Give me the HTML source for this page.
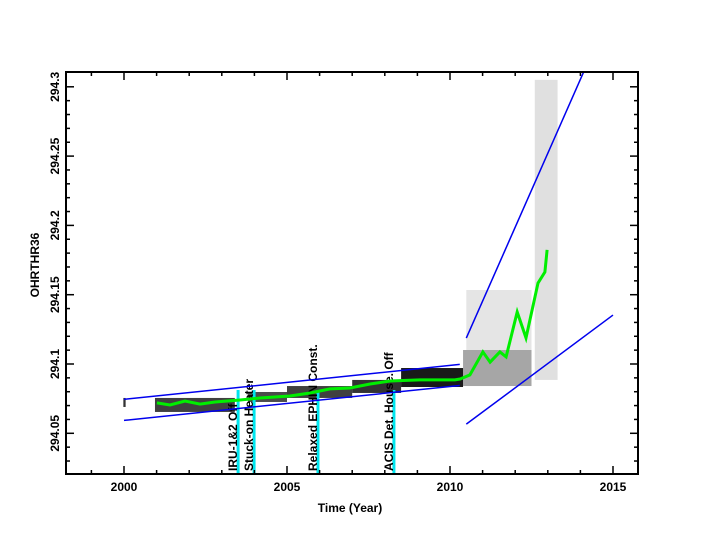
<!DOCTYPE html>
<html><head><meta charset="utf-8"><style>
html,body{margin:0;padding:0;background:#fff;}
svg{display:block;font-family:"Liberation Sans",sans-serif;}
text{font-weight:bold;}
</style></head><body>
<svg id="chart" width="704" height="544" viewBox="0 0 704 544">
<rect x="0" y="0" width="704" height="544" fill="#fff"/>
<g id="bands"></g>
<g id="events"></g>
<g id="limits"></g>
<path id="smooth" fill="none" stroke="#00ee00" stroke-width="3"/>
<rect x="66" y="72" width="572" height="402" fill="none" stroke="#000" stroke-width="2"/>
<g id="axes"></g>
<text x="350" y="512" font-size="12" text-anchor="middle">Time (Year)</text>
<text x="0" y="0" font-size="12" text-anchor="middle" transform="translate(39,265) rotate(-90)">OHRTHR36</text>
</svg>
<script>
const xTicks = [2000, 2005, 2010, 2015];
const yTicks = [294.05, 294.1, 294.15, 294.2, 294.25, 294.3];
const yTickLabels = ["294.05", "294.1", "294.15", "294.2", "294.25", "294.3"];
const smoothYears = [2001.01,2001.41,2001.87,2002.33,2002.79,2003.56,2004.17,2005.09,2005.71,2006.32,2006.93,2007.55,2008.16,2009.08,2010.15,2010.31,2010.61,2011.01,2011.23,2011.53,2011.72,2012.06,2012.33,2012.70,2012.91,2012.98];
const smoothValues = [294.0719,294.0704,294.0733,294.0711,294.0726,294.0740,294.0755,294.0769,294.0791,294.0820,294.0827,294.0856,294.0877,294.0885,294.0885,294.0892,294.0921,294.1087,294.1014,294.1087,294.1051,294.1375,294.1188,294.1584,294.1664,294.1823];
const bandStart = [1999.98,2000.95,2003.8,2005.0,2007.0,2008.5,2010.4,2010.5,2012.6];
const bandEnd = [2000.05,2003.4,2005.0,2007.0,2008.5,2010.4,2012.5,2012.5,2013.3];
const bandLow = [294.0690,294.0654,294.0726,294.0755,294.0791,294.0834,294.0841,294.1101,294.0885];
const bandHigh = [294.0755,294.0755,294.0798,294.0841,294.0885,294.0971,294.1101,294.1534,294.3050];
const bandDensity = [0.8,0.75,0.7,0.75,0.8,0.9,0.35,0.1,0.12];
const limitX1 = [2000.0,2000.0,2010.5,2010.5];
const limitY1 = [294.0745,294.0593,294.1187,294.0566];
const limitX2 = [2010.3,2010.3,2014.1,2015.0];
const limitY2 = [294.0997,294.0845,294.3107,294.1353];
const eventYears = [2003.50, 2003.99, 2005.95, 2008.28];
const eventLabels = ["IRU-1&2 Off", "Stuck-on Heater", "Relaxed EPHIN Const.", "ACIS Det. House. Off"];

const NS = "http://www.w3.org/2000/svg";
function X(yr){ return 124 + (yr - 2000) * 32.6; }
function Y(v){ return 364 - (v - 294.1) * 1386; }
function mk(tag, attrs, parent){ const e = document.createElementNS(NS, tag); for (const k in attrs) e.setAttribute(k, attrs[k]); parent.appendChild(e); return e; }

const bands = document.getElementById('bands');
for (let i = 0; i < bandStart.length; i++) {
  const r = mk('rect', {x: X(bandStart[i]), y: Y(bandHigh[i]), width: X(bandEnd[i]) - X(bandStart[i]), height: Y(bandLow[i]) - Y(bandHigh[i]), fill: '#000', 'fill-opacity': bandDensity[i]}, bands);
  
  
}

const ev = document.getElementById('events');
for (let i = 0; i < eventYears.length; i++) {
  const l = mk('line', {x1: X(eventYears[i]), x2: X(eventYears[i]), y1: 390, y2: 474, stroke: '#00e5ee', 'stroke-width': 3}, ev);
  
  
  const t = mk('text', {x: 0, y: 0, 'font-size': 12, transform: 'translate(' + (X(eventYears[i]) - 1) + ',471) rotate(-90)'}, ev);
  t.textContent = eventLabels[i];
  
  
}

const lim = document.getElementById('limits');
for (let i = 0; i < limitX1.length; i++) {
  const l = mk('line', {x1: X(limitX1[i]), y1: Y(limitY1[i]), x2: X(limitX2[i]), y2: Y(limitY2[i]), stroke: '#0000ee', 'stroke-width': 1.5}, lim);
  
  
}

document.getElementById('smooth').setAttribute('d', smoothYears.map((y, i) => (i ? 'L' : 'M') + X(y).toFixed(1) + ',' + Y(smoothValues[i]).toFixed(1)).join(' '));

const ax = document.getElementById('axes');
for (let yr = 1999; yr <= 2016; yr++) {
  const x = X(yr); if (x < 67 || x > 637) continue;
  const major = xTicks.includes(yr); const len = major ? 8 : 4;
  mk('line', {x1: x, x2: x, y1: 474, y2: 474 - len, stroke: '#000', 'stroke-width': 1.5}, ax);
  mk('line', {x1: x, x2: x, y1: 72, y2: 72 + len, stroke: '#000', 'stroke-width': 1.5}, ax);
}
xTicks.forEach(yr => {
  const t = mk('text', {x: X(yr), y: 491, 'font-size': 12, 'text-anchor': 'middle'}, ax);
  t.textContent = String(yr);
  
  
});
for (let k = 0; k <= 30; k++) {
  const v = 294.02 + k * 0.01; const y = Y(v); if (y < 73 || y > 473) continue;
  const major = (k % 5) === 3; const len = major ? 8 : 4;
  mk('line', {x1: 66, x2: 66 + len, y1: y, y2: y, stroke: '#000', 'stroke-width': 1.5}, ax);
  mk('line', {x1: 638, x2: 638 - len, y1: y, y2: y, stroke: '#000', 'stroke-width': 1.5}, ax);
}
yTicks.forEach((v, i) => {
  const t = mk('text', {x: 0, y: 0, 'font-size': 12, 'text-anchor': 'middle', transform: 'translate(59,' + Y(v) + ') rotate(-90)'}, ax);
  t.textContent = yTickLabels[i];
  
  
});
</script>
</body></html>
